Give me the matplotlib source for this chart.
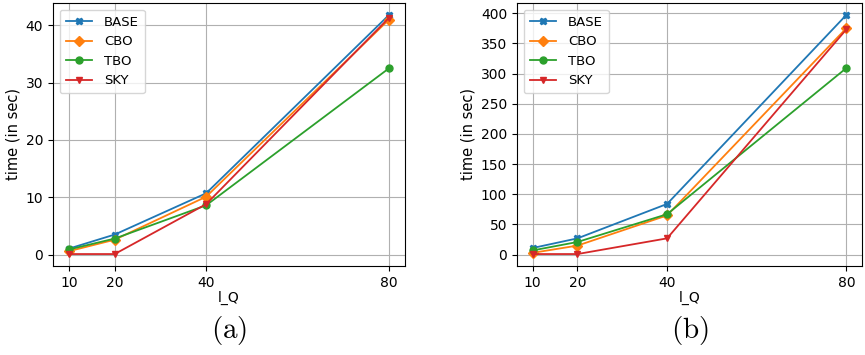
import matplotlib
matplotlib.use("Agg")
import matplotlib.pyplot as plt

plt.rcParams["mathtext.fontset"] = "cm"

lq = [10, 20, 40, 80]

# panel (a)
base_a = [1.05, 3.5, 10.7, 41.8]
cbo_a = [0.6, 2.6, 10.1, 41.0]
tbo_a = [0.9, 2.8, 8.6, 32.5]
sky_a = [0.1, 0.1, 8.8, 41.3]

# panel (b)
base_b = [11, 27, 84, 397]
cbo_b = [3, 15, 65, 375]
tbo_b = [7, 21, 67, 309]
sky_b = [1, 1, 27, 373]

series = [
    ("BASE", "X", "#1f77b4"),
    ("CBO", "D", "#ff7f0e"),
    ("TBO", "o", "#2ca02c"),
    ("SKY", "v", "#d62728"),
]


def draw(ax, data, yticks, tag):
    for (name, mk, col), vals in zip(series, data):
        ax.plot(lq, vals, marker=mk, color=col, label=name,
                markersize=5, linewidth=1.3)
    ax.set_xticks(lq)
    ax.set_yticks(yticks)
    ax.grid(True, color="#b0b0b0", linewidth=0.8)
    ax.set_xlabel("l_Q", labelpad=1)
    ax.set_ylabel("time (in sec)", fontsize=10.5)
    ax.tick_params(labelsize=10)
    ax.legend(loc="upper left", fontsize=9.5, handletextpad=0.9,
              handlelength=2.0, borderpad=0.45)
    ax.text(0.5, -0.245, r"$\mathrm{(" + tag + ")}$", transform=ax.transAxes,
            ha="center", va="center", fontsize=21)


fig = plt.figure(figsize=(8.65, 3.55), dpi=100)
ax1 = fig.add_axes([53 / 865, 1 - 266 / 355, 352 / 865, 263 / 355])
ax2 = fig.add_axes([517 / 865, 1 - 266 / 355, 345 / 865, 263 / 355])

draw(ax1, [base_a, cbo_a, tbo_a, sky_a], [0, 10, 20, 30, 40], "a")
draw(ax2, [base_b, cbo_b, tbo_b, sky_b], list(range(0, 401, 50)), "b")

fig.savefig("out.png", dpi=100)
